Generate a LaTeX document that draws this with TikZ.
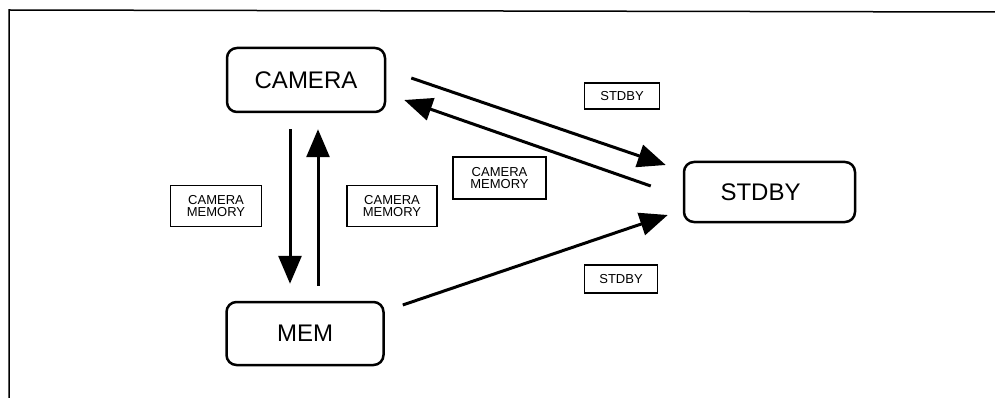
\documentclass[tikz,border=0pt]{standalone}
\usepackage{fontspec}
\setmainfont{Liberation Sans}
\usetikzlibrary{arrows.meta}
\begin{document}
\begin{tikzpicture}[x=1pt,y=-1pt,
  statebox/.style={draw,line width=2.5pt,rounded corners=10pt,inner sep=0pt,font=\fontsize{24}{24}\selectfont},
  lblbox/.style={draw,line width=1.6pt,inner sep=0pt,align=center,font=\fontsize{13}{12}\selectfont},
  arr/.style={line width=3pt,-{Triangle[length=28pt,width=23pt]}}]
\useasboundingbox (0,0) rectangle (995,398);
\draw[line width=1.5pt] (9,398) -- (9,10) -- (995,12);
\node[statebox,minimum width=158pt,minimum height=64pt] (cam) at (306,80) {CAMERA};
\node[statebox,minimum width=157pt,minimum height=63pt] (mem) at (305,333.5) {MEM};
\node[statebox,minimum width=171pt,minimum height=60pt] (stb) at (769.5,192) {\hspace*{-18pt}STDBY};
\node[lblbox,minimum width=75pt,minimum height=26pt] (l1) at (622,96) {STDBY};
\node[lblbox,minimum width=93pt,minimum height=42pt] (l2) at (499.5,178) {CAMERA\\MEMORY};
\node[lblbox,minimum width=91pt,minimum height=41pt] (l3) at (216,206) {CAMERA\\MEMORY};
\node[lblbox,minimum width=90pt,minimum height=41pt] (l4) at (392,206) {CAMERA\\MEMORY};
\node[lblbox,minimum width=73pt,minimum height=28pt] (l5) at (621,279) {STDBY};
\draw[arr] ([xshift=-16pt,yshift=-16pt]cam.south) -- ([xshift=-15pt,yshift=17pt]mem.north);
\draw[arr] ([xshift=13pt,yshift=15pt]mem.north) -- ([xshift=12pt,yshift=-16pt]cam.south);
\draw[arr] ([xshift=25pt,yshift=2pt]cam.east) -- ([xshift=-17pt,yshift=27pt]stb.west);
\draw[arr] ([xshift=-32pt,yshift=6pt]stb.west) -- ([xshift=18pt,yshift=-20pt]cam.east);
\draw[arr] ([xshift=18pt,yshift=28.5pt]mem.east) -- ([xshift=-15pt,yshift=-23pt]stb.west);
\end{tikzpicture}
\end{document}
